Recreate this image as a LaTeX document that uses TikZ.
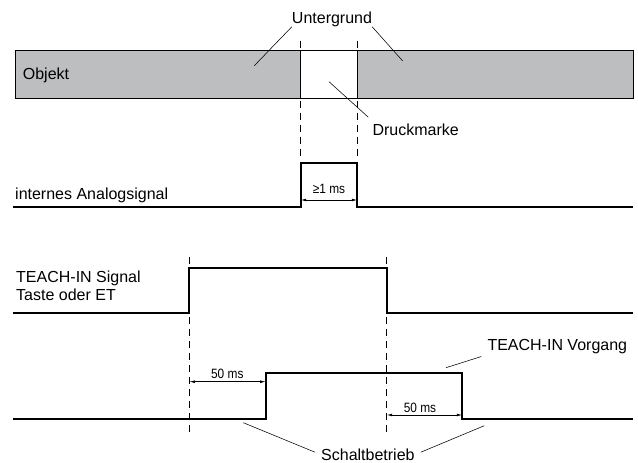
\documentclass[tikz,border=0pt]{standalone}
\usepackage{fontspec}
\setmainfont{Liberation Sans}
\newfontfamily\condfont[FakeStretch=0.88]{Liberation Sans}
\usetikzlibrary{arrows.meta}
\definecolor{objgrey}{RGB}{189,190,192}
\tikzset{%
  sig/.style      = {line width=1.9pt, line join=miter},%
  guide/.style    = {line width=0.9pt, dash pattern=on 7pt off 5pt},%
  leader/.style   = {line width=0.55pt},%
  dimarrow/.style = {line width=0.7pt,%
                     {Latex[length=5.5pt,width=2.8pt]}-{Latex[length=5.5pt,width=2.8pt]}},%
  txt/.style      = {font=\fontsize{16}{18}\selectfont, inner sep=0pt},%
  dimtxt/.style   = {font=\condfont\fontsize{13.5}{15}\selectfont, inner sep=0pt}%
}
\begin{document}
\begin{tikzpicture}[x=1pt,y=-1pt]
	\useasboundingbox (0,0) rectangle (638,463);
	% object with print mark
	\draw [fill=objgrey, line width=0.9pt] (15,50.7) rectangle (633,98.3);
	\draw [fill=white, line width=0.7pt] (300.7,50.7) rectangle (357.3,98.3);
	\node [txt, anchor=base west] (objekt) at (22.7,79) {Objekt};
	\node [txt, anchor=base] (untergrund) at (332,23.3) {Untergrund};
	\node [txt, anchor=base west] (druckmarke) at (372.3,135) {Druckmarke};
	\coordinate (bgL) at (254.3,65.7);
	\coordinate (bgR) at (402.7,61);
	\coordinate (mark) at (329,81.7);
	\draw [leader] (untergrund.south west) -- (bgL);
	\draw [leader] (untergrund.south east) -- (bgR);
	\draw [leader] ([xshift=-4pt,yshift=6pt]druckmarke.north west) -- (mark);
	% guide lines
	\draw [guide] (300.7,40.7) -- (300.7,156);
	\draw [guide] (357.3,40.7) -- (357.3,156);
	\draw [guide] (189.3,257) -- (189.3,432);
	\draw [guide] (386.7,257) -- (386.7,432);
	% internal analog signal
	\node [txt, anchor=base west] (analog) at (15,199.3) {internes Analogsignal};
	\draw [sig] (12.7,206.7) -- (300.7,206.7) |- (357.3,162.7) |- (633,206.7);
	\coordinate (pulseL) at (300.7,200);
	\coordinate (pulseR) at (357.3,200);
	\draw [dimarrow] (pulseL) -- (pulseR);
	\node [dimtxt, anchor=base] (pulsetime) at (329,193) {≥1 ms};
	% teach-in input
	\node [txt, anchor=base west] (teachsig) at (16,282.3) {TEACH-IN Signal};
	\node [txt, anchor=base west] (teachkey) at (16,300) {Taste oder ET};
	\draw [sig] (12.7,312.7) -- (189.3,312.7) |- (386.7,267.8) |- (633,312.7);
	% teach-in process
	\draw [sig] (12.7,419) -- (265.7,419) |- (462.3,373.3) |- (633,419);
	\coordinate (onL) at (189.3,381.7);
	\coordinate (onR) at (265.7,381.7);
	\coordinate (offL) at (386.7,415);
	\coordinate (offR) at (462.3,415);
	\draw [dimarrow] (onL) -- (onR);
	\draw [dimarrow] (offL) -- (offR);
	\node [dimtxt, anchor=base] (ondelay) at (227.3,378) {50 ms};
	\node [dimtxt, anchor=base] (offdelay) at (420,412) {50 ms};
	\node [txt, anchor=base west] (vorgang) at (487.3,350) {TEACH-IN Vorgang};
	\node [txt, anchor=base west] (schalt) at (321,460) {Schaltbetrieb};
	\coordinate (procHigh) at (446,367.7);
	\coordinate (runL) at (243.3,422.7);
	\coordinate (runR) at (484.3,425.7);
	\draw [leader] ([xshift=-6pt,yshift=-3pt]vorgang.south west) -- (procHigh);
	\draw [leader] ([xshift=-6pt,yshift=-4pt]schalt.north west) -- (runL);
	\draw [leader] ([xshift=6pt,yshift=-4pt]schalt.north east) -- (runR);
\end{tikzpicture}
\end{document}
